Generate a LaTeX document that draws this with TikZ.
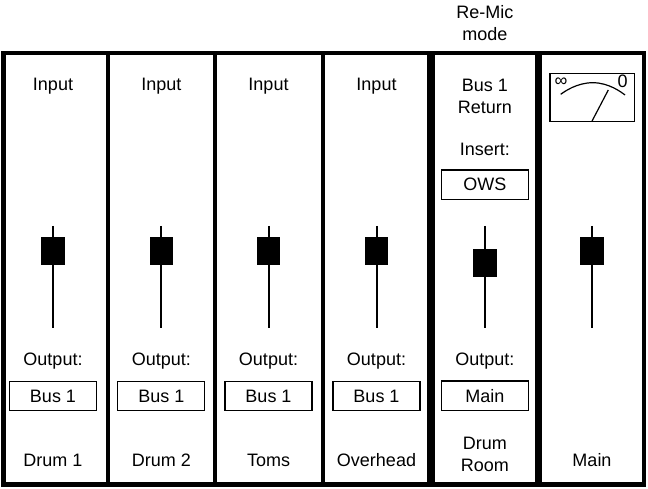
\documentclass[tikz,border=0pt]{standalone}
\usepackage{fontspec}
\setmainfont{Liberation Sans}
\begin{document}
\begin{tikzpicture}[x=1pt, y=-1pt,
    every node/.style={font=\fontsize{18}{22}\selectfont, inner sep=0pt},
    label text/.style={anchor=base},
    two lines/.style={align=center, anchor=north},
    bus box/.style={draw, line width=1.3pt, minimum width=87pt, minimum height=29.5pt},
    knob/.style={fill=black, minimum width=23.5pt, minimum height=27.5pt},
    slot/.style={line width=2pt},
    frame/.style={line width=4.5pt}]
  \useasboundingbox (0,0) rectangle (648,489);

  % Frame and channel dividers
  \draw[frame] (3.7,53) rectangle (644,484.3);
  \foreach \x in {108,214.7,323}
    \draw[line width=4pt] (\x,53) -- (\x,484.3);
  % Re-Mic strip has heavier sides
  \foreach \x in {431,538.7}
    \draw[line width=7.5pt] (\x,53) -- (\x,484.3);

  % Drum channels
  \foreach \x/\name/\lbl in {53/a/Drum 1,161.3/b/Drum 2,268.5/c/Toms,376.5/d/Overhead}{
    \node[label text] (in-\name) at (\x,91) {Input};
    \coordinate (top-\name) at (\x,226);
    \coordinate (bot-\name) at (\x,328);
    \draw[slot] (top-\name) -- (bot-\name);
    \node[knob] (knob-\name) at (\x,251) {};
    \node[label text] (out-\name) at (\x,365) {Output:};
    \node[bus box] (bus-\name) at (\x,396) {Bus 1};
    \node[label text] (name-\name) at (\x,466.7) {\lbl};
  }

  % Re-Mic channel
  \node[two lines] (mode) at (484.8,5) {Re-Mic\\mode};
  \node[two lines] (ret) at (484.8,79) {Bus 1\\Return};
  \node[label text] (ins) at (484.8,156) {Insert:};
  \node[bus box] (ows) at (484.8,184.7) {OWS};
  \coordinate (top-e) at (484.8,226);
  \coordinate (bot-e) at (484.8,328);
  \draw[slot] (top-e) -- (bot-e);
  \node[knob] (knob-e) at (484.8,263) {};
  \node[label text] (out-e) at (484.8,365) {Output:};
  \node[bus box] (bus-e) at (484.8,395.7) {Main};
  \node[two lines] (name-e) at (484.8,436.7) {Drum\\Room};

  % Main channel with meter
  \draw[line width=1.2pt] (550,73.3) rectangle (634.3,121.7);
  \draw[line width=1.2pt] (560.7,94.3) parabola bend (592.8,82.7) (625,95);
  \draw[line width=1.2pt] (591.7,121.7) -- (608.3,90);
  \node (inf) at (561,81.7) {\symbol{"221E}};
  \node (zero) at (622.5,81.7) {0};
  \coordinate (top-f) at (592,226);
  \coordinate (bot-f) at (592,328);
  \draw[slot] (top-f) -- (bot-f);
  \node[knob] (knob-f) at (592,251) {};
  \node[label text] (name-f) at (592,466.7) {Main};
\end{tikzpicture}
\end{document}
